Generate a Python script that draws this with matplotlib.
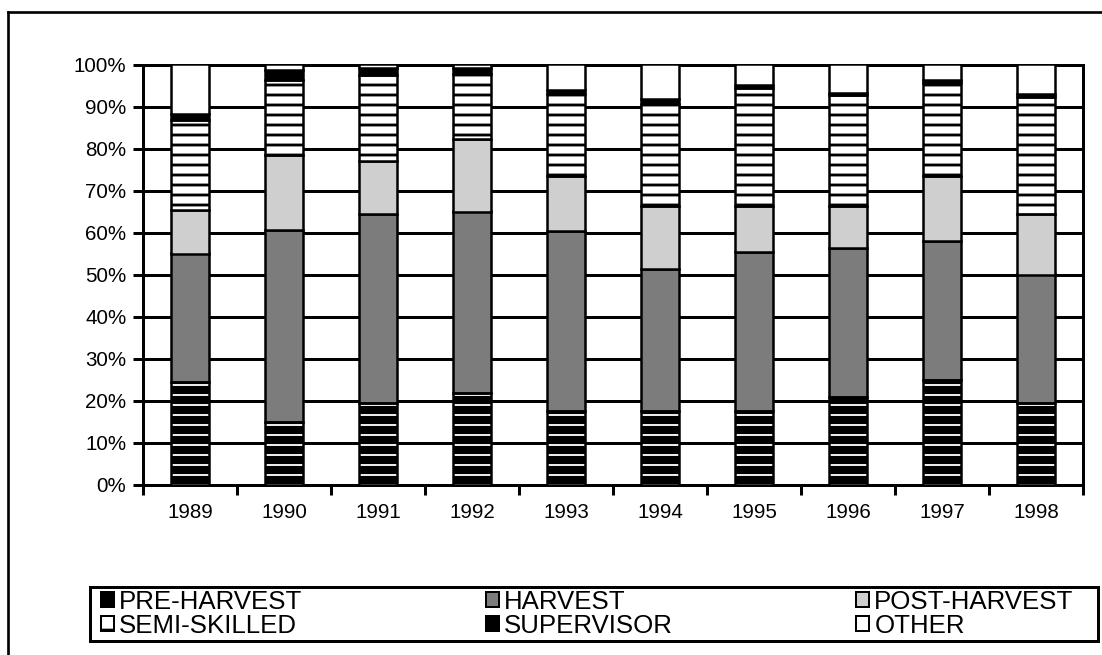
import matplotlib
matplotlib.use("Agg")
import matplotlib.pyplot as plt
from matplotlib.patches import Patch, Rectangle
from matplotlib.lines import Line2D
import numpy as np

# Workforce composition by job category, share of total (%)
years = ["1989", "1990", "1991", "1992", "1993", "1994", "1995", "1996", "1997", "1998"]
pre_harvest  = [24.5, 15.0, 19.3, 21.7, 17.4, 17.4, 17.4, 20.9, 24.9, 19.3]
harvest      = [30.5, 45.5, 45.0, 43.3, 43.0, 33.9, 37.9, 35.4, 33.1, 30.7]
post_harvest = [10.4, 18.0, 12.7, 17.3, 13.0, 15.0, 11.0, 10.0, 15.4, 14.3]
semi_skilled = [21.3, 17.7, 20.4, 15.5, 19.6, 24.2, 28.1, 26.4, 22.3, 28.0]
supervisor   = [1.6, 2.4, 1.8, 1.4, 0.9, 1.2, 0.7, 0.6, 0.6, 0.6]
other        = [11.7, 1.4, 0.8, 0.8, 6.1, 8.3, 4.9, 6.7, 3.7, 7.1]

series_names = ["PRE-HARVEST", "HARVEST", "POST-HARVEST", "SEMI-SKILLED", "SUPERVISOR", "OTHER"]
y_ticks = [0, 10, 20, 30, 40, 50, 60, 70, 80, 90, 100]

DPI = 120
W, H = 1102, 655
plt.rcParams["font.family"] = ["Liberation Sans", "DejaVu Sans"]
plt.rcParams["hatch.linewidth"] = 1.6

fig = plt.figure(figsize=(W / DPI, H / DPI), dpi=DPI)
fig.patch.set_facecolor("white")
ax = fig.add_axes([143 / W, 1 - 484.5 / H, (1083 - 143) / W, (484.5 - 64.5) / H])

x = np.arange(len(years))
bw = 0.41
edge_lw = 1.5
HARVEST_C = "#7c7c7c"
POST_C = "#cfcfcf"


def set_hlw(patches, lw):
    for p in patches:
        if hasattr(p, "set_hatch_linewidth"):
            p.set_hatch_linewidth(lw)


bottom = np.zeros(len(years))

# pre-harvest: black with white stripes
b = ax.bar(x, pre_harvest, bw, bottom=bottom, color="black", edgecolor="white",
           hatch="--", linewidth=0, zorder=3)
set_hlw(b, 1.1)
ax.bar(x, pre_harvest, bw, bottom=bottom, fill=False, edgecolor="black",
       linewidth=edge_lw, zorder=4)
bottom += pre_harvest

# harvest: dark stipple
ax.bar(x, harvest, bw, bottom=bottom, color=HARVEST_C, edgecolor="black",
       linewidth=edge_lw, zorder=3)
bottom += harvest

# post-harvest: light stipple
ax.bar(x, post_harvest, bw, bottom=bottom, color=POST_C, edgecolor="black",
       linewidth=edge_lw, zorder=3)
bottom += post_harvest

# semi-skilled: white with black stripes
b = ax.bar(x, semi_skilled, bw, bottom=bottom, color="white", edgecolor="black",
           hatch="--", linewidth=edge_lw, zorder=3)
set_hlw(b, 1.7)
bottom += semi_skilled

# supervisor: solid black
ax.bar(x, supervisor, bw, bottom=bottom, color="black", edgecolor="black",
       linewidth=edge_lw, zorder=3)
bottom += supervisor

# other: white
ax.bar(x, other, bw, bottom=bottom, color="white", edgecolor="black",
       linewidth=edge_lw, zorder=3)

ax.set_xlim(-0.5, len(years) - 0.5)
ax.set_ylim(0, 100)
ax.set_yticks(y_ticks)
ax.set_yticklabels([f"{v}%" for v in y_ticks])
ax.set_xticks(x)
ax.set_xticklabels(years)
ax.set_xticks(np.arange(-0.5, len(years)), minor=True)
ax.tick_params(axis="x", which="major", length=0, pad=11, labelsize=12.3)
ax.tick_params(axis="x", which="minor", length=6, width=1.8, direction="out")
ax.tick_params(axis="y", which="major", length=6, width=1.8, direction="out",
               pad=4, labelsize=12.3)
ax.yaxis.grid(True, color="black", linewidth=1.8)
ax.set_axisbelow(True)
for s in ax.spines.values():
    s.set_linewidth(1.8)
    s.set_color("black")

# legend
def sq(fc, hatch=None):
    return Patch(facecolor=fc, edgecolor="black", hatch=hatch, linewidth=1.2)

handles = [sq("black"), sq("white", "-"), sq(HARVEST_C),
           sq("black"), sq(POST_C), sq("white")]
labels = [series_names[0], series_names[3], series_names[1],
          series_names[4], series_names[2], series_names[5]]
leg = fig.legend(handles, labels, ncol=3, loc="center left",
                 bbox_to_anchor=(88 / W, 1 - 614 / H),
                 frameon=False, borderpad=0, handlelength=0.5, handleheight=0.5,
                 handletextpad=0.2, labelspacing=0.0, columnspacing=7.1,
                 prop={"size": 15.5})

# legend box
fig.add_artist(Rectangle((90 / W, 1 - 641 / H), (1098 - 90) / W, 54 / H,
                         fill=False, edgecolor="black", linewidth=1.8,
                         transform=fig.transFigure))

# outer chart frame
fig.add_artist(Line2D([8 / W, 1], [1 - 12 / H, 1 - 12 / H], color="black", lw=1.6,
                      transform=fig.transFigure))
fig.add_artist(Line2D([8 / W, 8 / W], [0, 1 - 12 / H], color="black", lw=1.6,
                      transform=fig.transFigure))

fig.savefig("out.png", dpi=DPI)
